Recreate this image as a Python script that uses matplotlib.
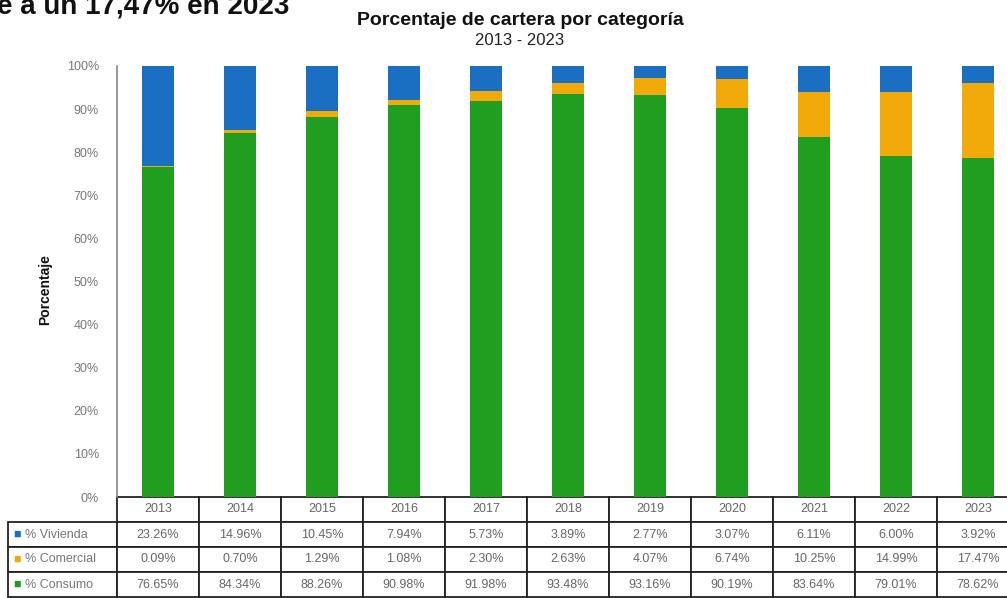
import matplotlib
matplotlib.use("Agg")
import matplotlib.pyplot as plt
import numpy as np

plt.rcParams['font.family'] = ['Liberation Sans', 'DejaVu Sans']

years = ['2013', '2014', '2015', '2016', '2017', '2018', '2019', '2020', '2021', '2022', '2023']
vivienda = [23.26, 14.96, 10.45, 7.94, 5.73, 3.89, 2.77, 3.07, 6.11, 6.00, 3.92]
comercial = [0.09, 0.70, 1.29, 1.08, 2.30, 2.63, 4.07, 6.74, 10.25, 14.99, 17.47]
consumo = [76.65, 84.34, 88.26, 90.98, 91.98, 93.48, 93.16, 90.19, 83.64, 79.01, 78.62]
series_labels = ['% Vivienda', '% Comercial', '% Consumo']
yticks = [0, 10, 20, 30, 40, 50, 60, 70, 80, 90, 100]

c_green = '#1f9e1f'
c_gold = '#f2aa0a'
c_blue = '#1b6fc2'

W, H = 1007, 598
fig = plt.figure(figsize=(W / 100, H / 100), dpi=100)
fig.patch.set_facecolor('white')
ax = fig.add_axes([117 / W, 1 - 497 / H, 902 / W, 431 / H])

x = np.arange(len(years))
tot = np.array(vivienda) + np.array(comercial) + np.array(consumo)
v = np.array(vivienda) / tot * 100
cm = np.array(comercial) / tot * 100
cs = np.array(consumo) / tot * 100
bw = 0.39
ax.bar(x, cs, bw, color=c_green, linewidth=0)
ax.bar(x, cm, bw, bottom=cs, color=c_gold, linewidth=0)
ax.bar(x, v, bw, bottom=cs + cm, color=c_blue, linewidth=0)

ax.set_xlim(-0.5, len(years) - 0.5)
ax.set_ylim(0, 100)
ax.set_yticks(yticks)
ax.set_yticklabels([f'{t}%' for t in yticks], fontsize=9, color='#777777')
ax.tick_params(axis='y', length=0, pad=13)
ax.set_xticks([])
for s in ['top', 'right', 'bottom']:
    ax.spines[s].set_visible(False)
ax.spines['left'].set_color('#888888')
ax.spines['left'].set_linewidth(1.2)

# table
rows = [[''] + years]
rows.append([''] + [f'{val:.2f}%' for val in vivienda])
rows.append([''] + [f'{val:.2f}%' for val in comercial])
rows.append([''] + [f'{val:.2f}%' for val in consumo])
x0 = (8 - 117) / 902
tw = (1019 - 8) / 902
th = 100 / 431
cw = [109] + [82] * len(years)
cw = [c / sum(cw) for c in cw]
tbl = ax.table(cellText=rows, cellLoc='center', colWidths=cw,
               bbox=[x0, -th, tw, th])
tbl.auto_set_font_size(False)
tbl.set_fontsize(9)
for (r, c), cell in tbl.get_celld().items():
    cell.set_edgecolor('#222222')
    cell.set_linewidth(1.3)
    cell.get_text().set_color('#666666')
    if r == 0 and c == 0:
        cell.visible_edges = ''
tbl.set_clip_on(False)

row_cols = [c_blue, c_gold, c_green]
for i, (lab, col) in enumerate(zip(series_labels, row_cols)):
    yc = -(37.5 + 25 * i) / 431
    ax.text((13 - 117) / 902, yc, '■', color=col, fontsize=9, va='center', ha='left',
            transform=ax.transAxes, clip_on=False)
    ax.text((25 - 117) / 902, yc, lab, color='#777777', fontsize=9, va='center', ha='left',
            transform=ax.transAxes, clip_on=False)

fig.text(45 / W, 1 - 290 / H, 'Porcentaje', rotation=90, fontsize=10, fontweight='bold',
         ha='center', va='center', color='#111111')

fig.text(520 / W, 1 - 25 / H, 'Porcentaje de cartera por categoría', fontsize=14,
         fontweight='bold', ha='center', va='baseline', color='#111111')
fig.text(520 / W, 1 - 45 / H, '2013 - 2023', fontsize=12, ha='center', va='baseline',
         color='#222222')

fig.text(-3 / W, 1 - 14 / H, 'e a un 17,47% en 2023', fontsize=20, fontweight='bold',
         ha='left', va='baseline', color='#111111')

fig.savefig('out.png', dpi=100)
